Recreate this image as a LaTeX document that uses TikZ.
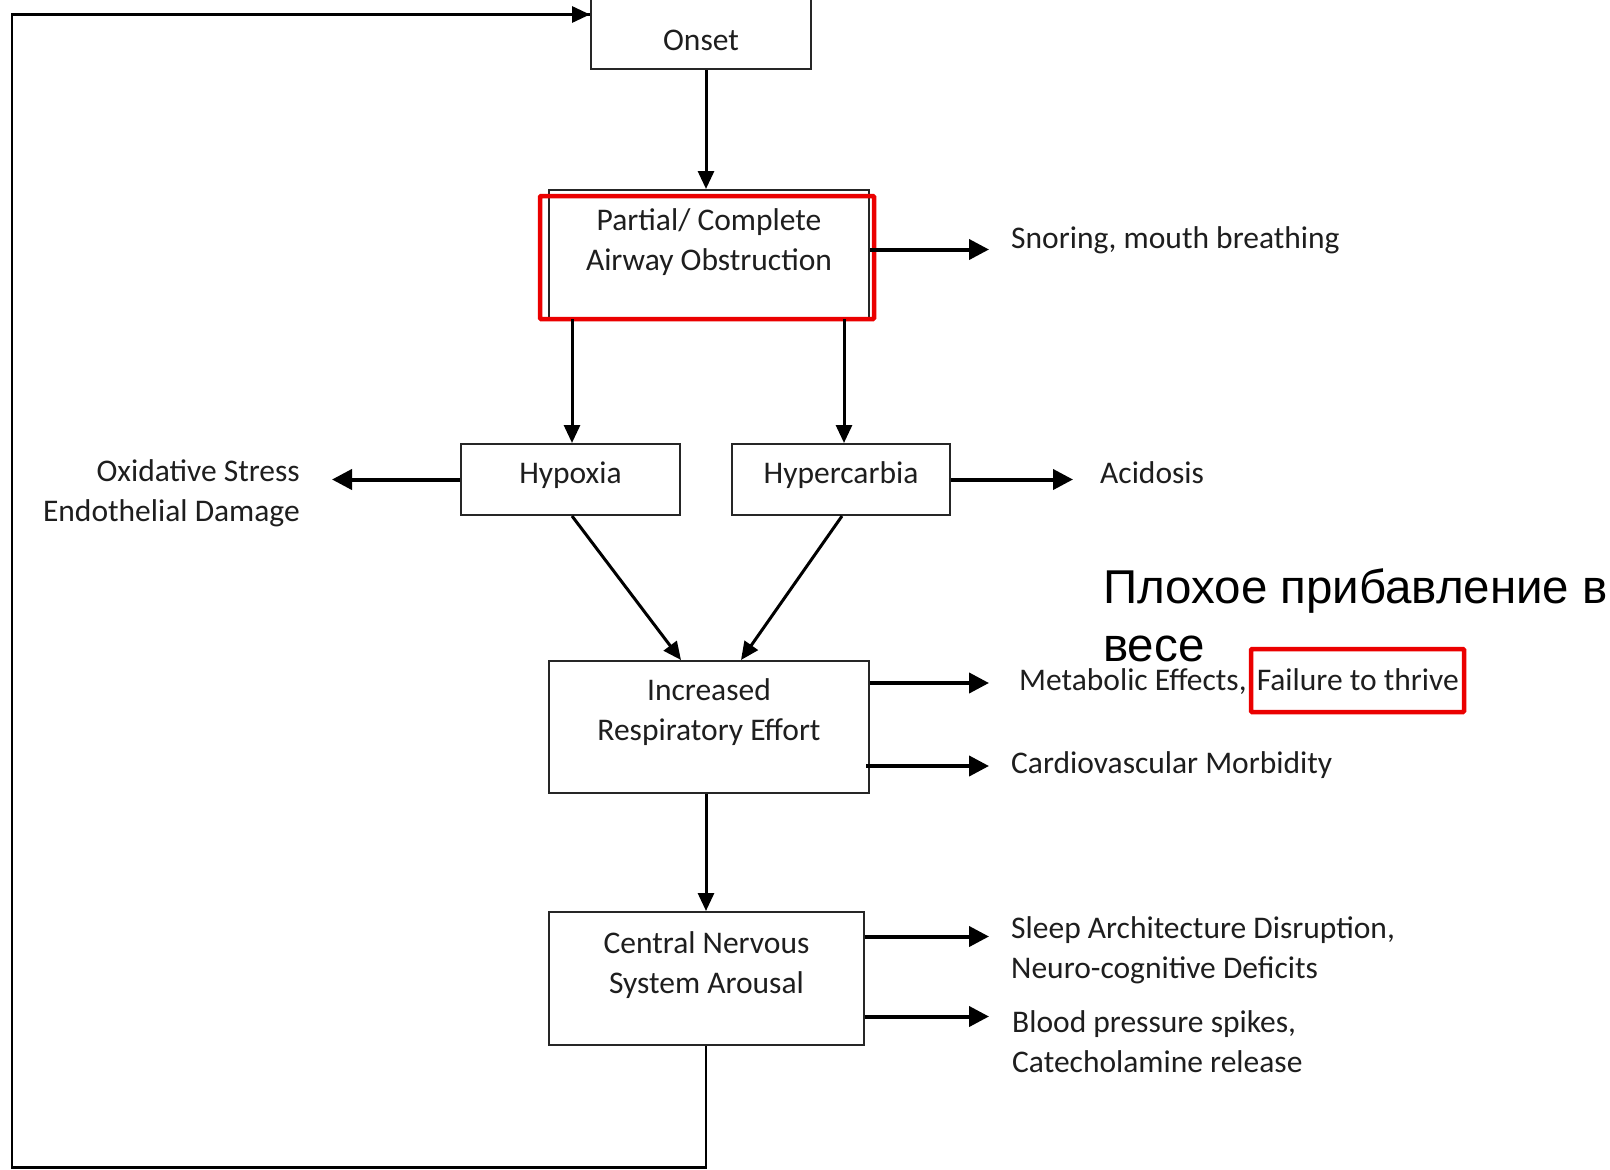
\documentclass[tikz,border=0pt]{standalone}
\usepackage{fontspec}
\setmainfont{Carlito}
\newfontfamily\rusfont{Liberation Sans}
\usetikzlibrary{arrows.meta}
\definecolor{txt}{RGB}{30,30,30}
\definecolor{redbox}{RGB}{235,0,0}
\begin{document}
\begin{tikzpicture}[x=1pt,y=-1pt,
  box/.style={draw=black!85, line width=2pt, inner sep=0pt},
  lbl/.style={text=txt, font=\fontsize{31.5}{40}\selectfont, inner sep=0pt},
  lblL/.style={lbl, anchor=west, align=left},
  btxt/.style={lbl, align=center},
  arr/.style={line width=4pt, -{Triangle[length=20pt,width=20pt]}},
  varr/.style={line width=3pt, -{Triangle[length=18pt,width=16pt]}},
  fb/.style={line width=2.5pt},
  hl/.style={draw=redbox, line width=4.5pt, rounded corners=1pt}]
\path[use as bounding box] (0,0) rectangle (1610,1170);
\clip (0,0) rectangle (1610,1170);
\fill[white] (0,0) rectangle (1610,1170);

% boxes
\node[box, minimum width=220pt, minimum height=100pt, anchor=south] (onset) at (701,70) {};
\node[btxt] (onsett) at (701,40) {Onset};
\node[box, minimum width=320pt, minimum height=128pt] (pac) at (709,254) {};
\node[btxt] (pact) at (709,242) {Partial/ Complete\\Airway Obstruction};
\node[box, minimum width=219pt, minimum height=71pt] (hypo) at (570.5,479.5) {};
\node[btxt] (hypot) at (570.5,475) {Hypoxia};
\node[box, minimum width=218pt, minimum height=71pt] (hyper) at (841,479.5) {};
\node[btxt] (hypert) at (841,475) {Hypercarbia};
\node[box, minimum width=320pt, minimum height=132pt] (ire) at (709,727) {};
\node[btxt] (iret) at (709,712) {Increased\\Respiratory Effort};
\node[box, minimum width=315pt, minimum height=133pt] (cns) at (706.5,978.5) {};
\node[btxt] (cnst) at (706.5,965) {Central Nervous\\System Arousal};

% red highlight boxes
\draw[hl] (540,196) rectangle (874,319);

% labels
\node[lblL] (snore) at (1011,240) {Snoring, mouth breathing};
\node[lbl, anchor=east, align=right] (oxid) at (300,493) {Oxidative Stress\\Endothelial Damage};
\node[lblL] (acid) at (1100,473) {Acidosis};
\node[lblL] (metab) at (1019,682) {Metabolic Effects,\ \hspace{3pt}Failure to thrive};
\node[lblL] (cardio) at (1011,765) {Cardiovascular Morbidity};
\node[lblL] (sleep) at (1011,950) {Sleep Architecture Disruption,\\Neuro-cognitive Deficits};
\node[lblL] (blood) at (1012,1042) {Blood pressure spikes,\\Catecholamine release};
\node[anchor=west, align=left, inner sep=0pt, font=\rusfont\fontsize{47.5}{58}\selectfont] (rus) at (1103,615) {Плохое прибавление в\\весе};
\draw[hl] (1251,649) rectangle (1464,712);

% arrows
\draw[varr] (onset.south -| 706,0) -- (pac.north -| 706,0);
\draw[arr] (pac.east |- 0,249.5) -- (989,249.5);
\draw[varr] (pac.south -| 572,0) -- (hypo.north -| 572,0);
\draw[varr] (pac.south -| 844,0) -- (hyper.north -| 844,0);
\draw[arr] (hypo.west) -- (332,479.5);
\draw[arr] (hyper.east) -- (1073,479.5);
\draw[varr] (hypo.south -| 572,0) -- (ire.north -| 681,0);
\draw[varr] (hyper.south -| 842,0) -- (ire.north -| 741,0);
\draw[arr] (ire.east |- 0,683) -- (989,683);
\draw[arr] (866,766) -- (989,766);
\draw[varr] (ire.south -| 706,0) -- (cns.north -| 706,0);
\draw[arr] (cns.east |- 0,936.5) -- (989,936.5);
\draw[arr] (cns.east |- 0,1016.5) -- (989,1016.5);

% feedback loop
\coordinate (c1) at (706,1167.5);
\coordinate (c2) at (12,1167.5);
\coordinate (c3) at (12,14.5);
\draw[fb] (cns.south -| 706,0) -- (c1) -- (c2) -- (c3) -- (onset.west |- c3);
\draw[line width=3pt, -{Triangle[length=18pt,width=16pt]}] (c3) -- (onset.west |- c3);
\end{tikzpicture}
\end{document}
